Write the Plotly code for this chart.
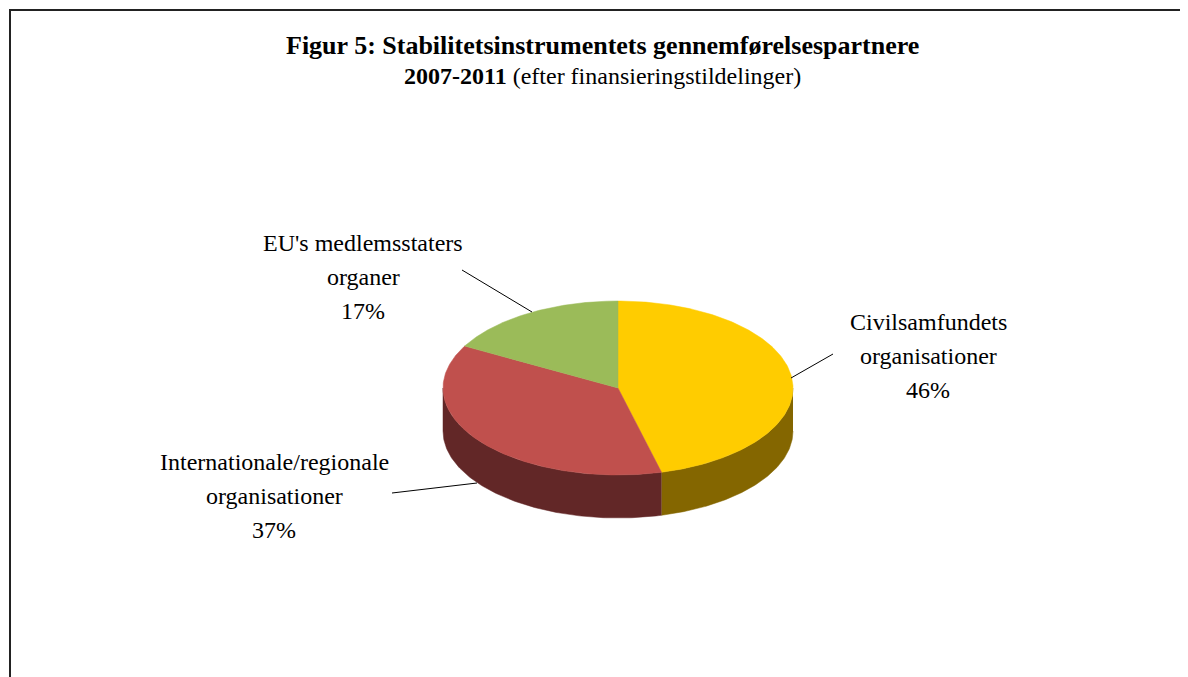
import numpy as np
import plotly.graph_objects as go

# data
labels = [["Civilsamfundets", "organisationer"],
          ["Internationale/regionale", "organisationer"],
          ["EU's medlemsstaters", "organer"]]
shares = [46, 37, 17]
top_colors = ["#FFCC00", "#C0504D", "#9BBB59"]
side_colors = ["#846600", "#622727", "#4E5E2D"]

# pie geometry in pixel-like coordinates (y goes down)
cx, cy = 618, 388
rx, ry = 175, 87
depth = 43

def pt(deg, dy=0):
    # angle measured clockwise from 12 o'clock
    t = np.radians(deg)
    return cx + rx * np.sin(t), cy - ry * np.cos(t) + dy

fig = go.Figure()

bounds = np.concatenate([[0], np.cumsum(shares)]) / sum(shares) * 360

# side walls (only the front half, 90..270 degrees, is visible)
for i in range(len(shares)):
    a0, a1 = max(bounds[i], 90), min(bounds[i + 1], 270)
    if a1 <= a0:
        continue
    ang = np.linspace(a0, a1, 120)
    xs_top, ys_top = pt(ang)
    xs_bot, ys_bot = pt(ang[::-1], depth)
    fig.add_trace(go.Scatter(
        x=np.concatenate([xs_top, xs_bot]), y=np.concatenate([ys_top, ys_bot]),
        fill="toself", fillcolor=side_colors[i], mode="lines",
        line=dict(width=0.5, color=side_colors[i]), hoverinfo="skip", showlegend=False))

# top faces
for i in range(len(shares)):
    ang = np.linspace(bounds[i], bounds[i + 1], 200)
    xs, ys = pt(ang)
    fig.add_trace(go.Scatter(
        x=np.concatenate([[cx], xs, [cx]]), y=np.concatenate([[cy], ys, [cy]]),
        fill="toself", fillcolor=top_colors[i], mode="lines",
        line=dict(width=0.5, color=top_colors[i]), hoverinfo="skip", showlegend=False))

# labels with leader lines
label_pos = [(928, 322), (274, 462), (363, 243)]
line_pts = [((791, 378), (833, 354)), ((477, 483), (392, 493)), ((532, 312), (462, 270))]
serif = "Liberation Serif, Times New Roman, serif"
font = dict(family=serif, size=24, color="black")
for i in range(len(shares)):
    x, y = label_pos[i]
    for j, line in enumerate(labels[i] + [f"{shares[i]}%"]):
        fig.add_annotation(x=x, y=y + 34 * j, text=line, showarrow=False,
                           font=font, xanchor="center", yanchor="middle")
    (x0, y0), (x1, y1) = line_pts[i]
    fig.add_shape(type="line", x0=x0, y0=y0, x1=x1, y1=y1, line=dict(color="black", width=1))

# title
fig.add_annotation(x=602, y=45, text="<b>Figur 5: Stabilitetsinstrumentets gennemførelsespartnere</b>",
                   showarrow=False, font=dict(family=serif, size=26, color="black"),
                   xanchor="center", yanchor="middle")
fig.add_annotation(x=602, y=76, text="<b>2007-2011</b> (efter finansieringstildelinger)",
                   showarrow=False, font=dict(family=serif, size=24, color="black"),
                   xanchor="center", yanchor="middle")

# frame
fig.add_shape(type="rect", x0=10, y0=10, x1=1210, y1=700, line=dict(color="#222222", width=2))

# the page body adds an 8px margin, so the axes start at 8 to keep pixel positions
fig.update_layout(
    width=1188, height=677,
    margin=dict(l=0, r=0, t=0, b=0),
    paper_bgcolor="white", plot_bgcolor="white",
    xaxis=dict(range=[8, 1196], visible=False, fixedrange=True),
    yaxis=dict(range=[685, 8], visible=False, fixedrange=True),
)

fig.write_html("out.html")
